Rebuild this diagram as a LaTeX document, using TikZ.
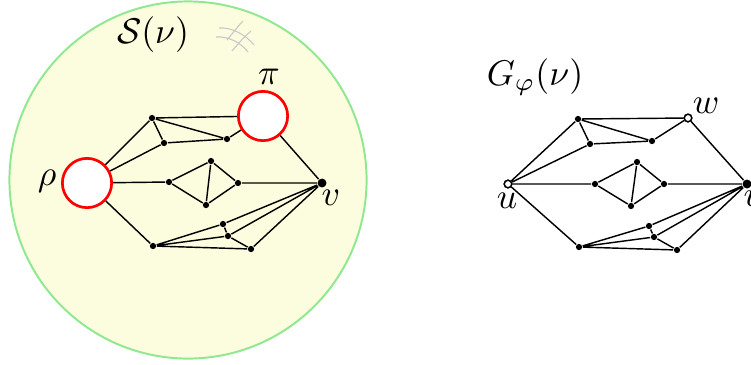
\documentclass[tikz,border=0pt]{standalone}
\definecolor{bgyellow}{RGB}{252,252,222}
\definecolor{rimgreen}{RGB}{144,232,144}
\definecolor{hashgrey}{RGB}{200,200,200}
\begin{document}
\begin{tikzpicture}[x=0.28pt,y=-0.28pt,
  dot/.style={circle,fill=black,draw=none,inner sep=0pt,minimum size=1.75pt},
  bigdot/.style={circle,fill=black,draw=none,inner sep=0pt,minimum size=2.5pt},
  opendot/.style={circle,fill=white,draw=black,line width=0.4pt,inner sep=0pt,minimum size=2.1pt},
  bigcirc/.style={circle,fill=white,draw=red,line width=0.75pt,inner sep=0pt,minimum size=13.8pt},
  edge/.style={line width=0.4pt,black},
  lab/.style={inner sep=0pt}]
\useasboundingbox (0,0) rectangle (751,364);
% region
\node[circle,fill=bgyellow,draw=rimgreen,line width=0.55pt,minimum size=100pt,inner sep=0pt] (region) at (188,180) {};
\node[lab] (Slab) at (153,35) {$\mathcal{S}(\nu)$};
% hash mark
\draw[hashgrey,line width=0.3pt] (219,28) .. controls (232,27) and (246,35) .. (254,45);
\draw[hashgrey,line width=0.3pt] (216,37) .. controls (229,36) and (241,43) .. (248,52);
\draw[hashgrey,line width=0.3pt] (227,40) .. controls (233,33) and (238,26) .. (243,21);
\draw[hashgrey,line width=0.3pt] (232,51) .. controls (238,44) and (244,37) .. (251,31);
% left graph
\node[bigcirc] (rho) at (87,183) {};
\node[bigcirc] (pi) at (263,116) {};
\node[bigdot] (v) at (322,183) {};
\node[lab] (rholab) at (47,181) {$\rho$};
\node[lab] (pilab) at (269,77) {$\pi$};
\node[lab] (vlab) at (331,198) {$v$};
\node[dot] (a1) at (152,118) {};
\node[dot] (a2) at (164,143) {};
\node[dot] (a3) at (227,139) {};
\node[dot] (b1) at (169,182) {};
\node[dot] (b2) at (211,161) {};
\node[dot] (b3) at (206,205) {};
\node[dot] (b4) at (238,183) {};
\node[dot] (c1) at (153,246) {};
\node[dot] (c2) at (223,224) {};
\node[dot] (c3) at (228,236) {};
\node[dot] (c4) at (251,249) {};
\draw[edge] (rho) -- (a1) (rho) -- (a2) (rho) -- (b1) (rho) -- (c1)
  (a1) -- (pi) (a1) -- (a2) (a1) -- (a3) (a2) -- (a3) (a3) -- (pi) (pi) -- (v)
  (b1) -- (b2) (b1) -- (b3) (b2) -- (b3) (b2) -- (b4) (b3) -- (b4) (b4) -- (v)
  (c1) -- (c2) (c1) -- (c3) (c1) -- (c4) (c2) -- (c3) (c3) -- (c4)
  (c2) -- (v) (c3) -- (v) (c4) -- (v);
% right graph
\node[lab] (Glab) at (535,77) {$G_{\varphi}(\nu)$};
\node[opendot] (u) at (508,184) {};
\node[opendot] (w) at (688,118) {};
\node[bigdot] (vv) at (747,184) {};
\node[lab] (ulab) at (507,201) {$u$};
\node[lab] (wlab) at (706,106) {$w$};
\node[lab] (vvlab) at (753,199) {$v$};
\node[dot] (d1) at (578,119) {};
\node[dot] (d2) at (590,144) {};
\node[dot] (d3) at (652,141) {};
\node[dot] (e1) at (595,184) {};
\node[dot] (e2) at (637,162) {};
\node[dot] (e3) at (631,206) {};
\node[dot] (e4) at (664,184) {};
\node[dot] (f1) at (579,247) {};
\node[dot] (f2) at (649,226) {};
\node[dot] (f3) at (654,237) {};
\node[dot] (f4) at (677,250) {};
\draw[edge] (u) -- (d1) (u) -- (d2) (u) -- (e1) (u) -- (f1)
  (d1) -- (w) (d1) -- (d2) (d1) -- (d3) (d2) -- (d3) (d3) -- (w) (w) -- (vv)
  (e1) -- (e2) (e1) -- (e3) (e2) -- (e3) (e2) -- (e4) (e3) -- (e4) (e4) -- (vv)
  (f1) -- (f2) (f1) -- (f3) (f1) -- (f4) (f2) -- (f3) (f3) -- (f4)
  (f2) -- (vv) (f3) -- (vv) (f4) -- (vv);
\node[opendot] at (u) {};
\node[opendot] at (w) {};
\end{tikzpicture}
\end{document}
